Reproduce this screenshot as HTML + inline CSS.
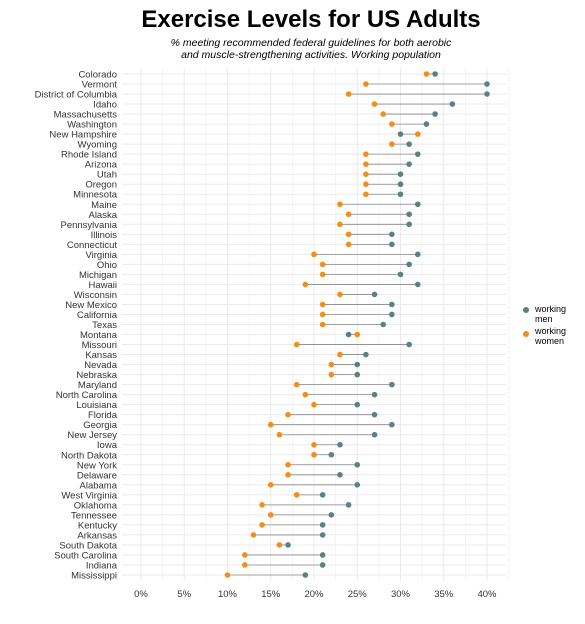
<!DOCTYPE html>
<html><head><meta charset="utf-8"><style>
body{margin:0;background:#fff;font-family:"Liberation Sans",sans-serif;}
svg{display:block}
</style></head><body>
<svg id="chart" width="585" height="624">
<text x="311" y="27" text-anchor="middle" font-size="24" font-weight="bold" fill="#000">Exercise Levels for US Adults</text>
<text x="311" y="46" text-anchor="middle" font-size="10.5" font-style="italic" fill="#000">% meeting recommended federal guidelines for both aerobic</text>
<text x="311" y="58" text-anchor="middle" font-size="10.5" font-style="italic" fill="#000">and muscle-strengthening activities. Working population</text>
<g id="grid"></g><g id="marks"></g><g id="labels"></g>
<g>
<circle cx="526" cy="310" r="3" fill="#5b8085"/>
<text x="535" y="312" font-size="9" fill="#000">working</text>
<text x="535" y="322" font-size="9" fill="#000">men</text>
<circle cx="526" cy="334" r="3" fill="#f28e1c"/>
<text x="535" y="334" font-size="9" fill="#000">working</text>
<text x="535" y="344" font-size="9" fill="#000">women</text>
</g>
</svg>
<script>
const states=["Colorado","Vermont","District of Columbia","Idaho","Massachusetts","Washington","New Hampshire","Wyoming","Rhode Island","Arizona","Utah","Oregon","Minnesota","Maine","Alaska","Pennsylvania","Illinois","Connecticut","Virginia","Ohio","Michigan","Hawaii","Wisconsin","New Mexico","California","Texas","Montana","Missouri","Kansas","Nevada","Nebraska","Maryland","North Carolina","Louisiana","Florida","Georgia","New Jersey","Iowa","North Dakota","New York","Delaware","Alabama","West Virginia","Oklahoma","Tennessee","Kentucky","Arkansas","South Dakota","South Carolina","Indiana","Mississippi"];
const men=[34,40,40,36,34,33,30,31,32,31,30,30,30,32,31,31,29,29,32,31,30,32,27,29,29,28,24,31,26,25,25,29,27,25,27,29,27,23,22,25,23,25,21,24,22,21,21,17,21,21,19];
const women=[33,26,24,27,28,29,32,29,26,26,26,26,26,23,24,23,24,24,20,21,21,19,23,21,21,21,25,18,23,22,22,18,19,20,17,15,16,20,20,17,17,15,18,14,15,14,13,16,12,12,10];
const ticks=[0,5,10,15,20,25,30,35,40];
const NS="http://www.w3.org/2000/svg";
const x=v=>141+v*8.65;
const y=i=>74+i*10.02;
function mk(tag,attrs,parent){const e=document.createElementNS(NS,tag);for(const k in attrs)e.setAttribute(k,attrs[k]);document.getElementById(parent).appendChild(e);return e;}
for(let v=0;v<=42.5;v+=2.5){const l=mk('line',{x1:x(v),x2:x(v),y1:68,y2:581,stroke:'#ebebeb','stroke-width':v%5===0?1:0.5},'grid');

}
states.forEach((s,i)=>{const l=mk('line',{x1:122,x2:506,y1:y(i),y2:y(i),stroke:'#ebebeb','stroke-width':1},'grid');


const t=mk('text',{x:117,y:y(i)+3.5,'text-anchor':'end','font-size':9.5,fill:'#333'},'labels');t.textContent=s;


const seg=mk('line',{x1:x(women[i]),x2:x(men[i]),y1:y(i),y2:y(i),stroke:'#888','stroke-width':0.8},'marks');


const cm=mk('circle',{cx:x(men[i]),cy:y(i),r:2.8,fill:'#5b8085'},'marks');


const cw=mk('circle',{cx:x(women[i]),cy:y(i),r:2.8,fill:'#f28e1c'},'marks');

});
ticks.forEach(v=>{const t=mk('text',{x:x(v),y:597,'text-anchor':'middle','font-size':9.5,fill:'#333'},'labels');t.textContent=v+'%';

});
</script>
</body></html>
